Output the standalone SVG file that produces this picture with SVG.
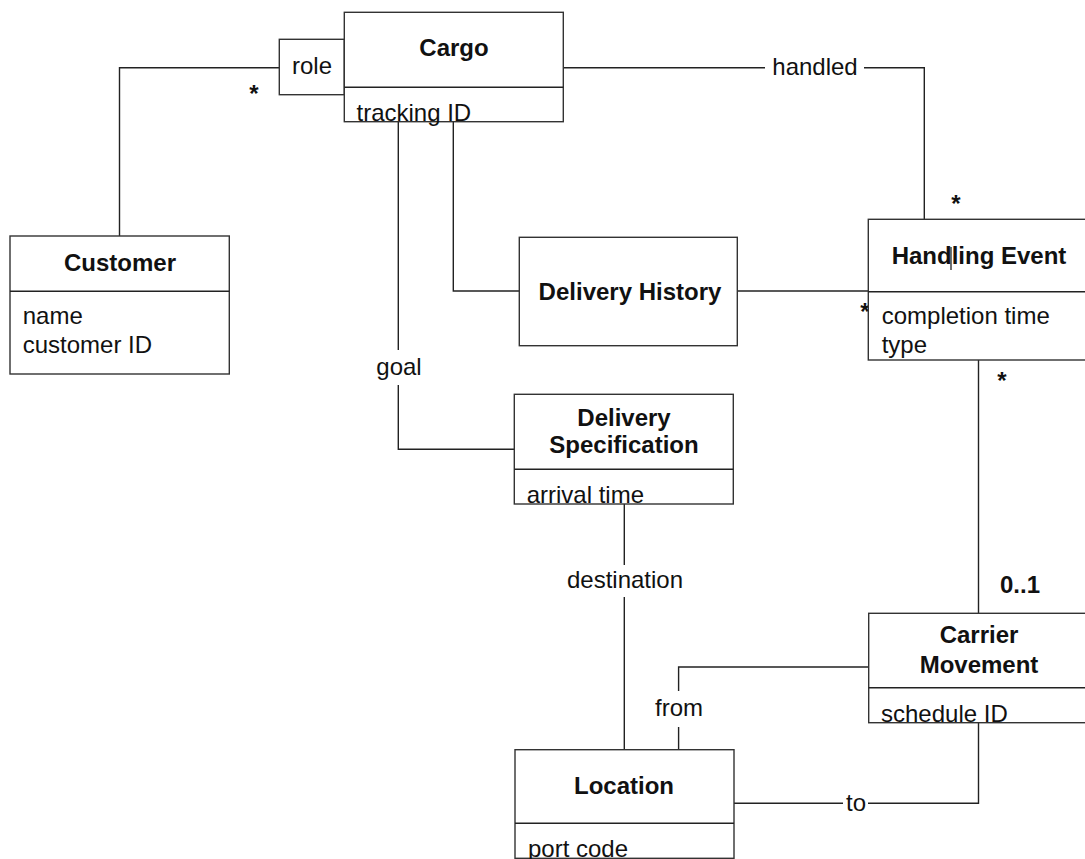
<svg xmlns="http://www.w3.org/2000/svg" width="1085" height="859" viewBox="0 0 1085 859">
<style>
text{font-family:"Liberation Sans",Arial,sans-serif;font-size:24px;fill:#111}
.t{font-weight:bold;text-anchor:middle}
.c{text-anchor:middle}
.b{font-weight:bold}
.box{fill:#fff;stroke:#333;stroke-width:1.4}
.ln{fill:none;stroke:#222;stroke-width:1.4}
</style>
<rect width="1085" height="859" fill="#fff"/>
<g id="connectors">
<path class="ln" d="M279.3,67.7 H119.5 V236"/>
<path class="ln" d="M563.3,67.7 H765 M864,67.7 H924.3 V219.3"/>
<path class="ln" d="M453.3,122 V291 H519.3"/>
<path class="ln" d="M737.3,291 H868.5"/>
<path class="ln" d="M398.3,122 V350 M398.3,385 V449.3 H514.3"/>
<path class="ln" d="M624.3,504 V565 M624.3,597 V749.7"/>
<path class="ln" d="M978.5,360 V613.3"/>
<path class="ln" d="M868.7,667 H678.6 V691 M678.6,727 V749.7"/>
<path class="ln" d="M734,803.3 H843 M868,803.3 H978.5 V722.7"/>
<text class="c" x="815" y="75">handled</text>
<text class="c" x="399" y="375">goal</text>
<text class="c" x="625" y="588">destination</text>
<text class="c" x="679" y="716">from</text>
<text class="c" x="856" y="811">to</text>
<text class="c b" x="254" y="102">*</text>
<text class="c b" x="956" y="212">*</text>
<text class="c b" x="865" y="320">*</text>
<text class="c b" x="1002" y="389">*</text>
<text class="c b" x="1020" y="593">0..1</text>
</g>
<g id="role">
<rect class="box" x="279.3" y="39.3" width="65" height="55.4"/>
<text x="292" y="73.5">role</text>
</g>
<g id="cargo">
<rect class="box" x="344.3" y="12.3" width="219" height="109.4"/>
<line class="ln" x1="344.3" y1="87.3" x2="563.3" y2="87.3"/>
<text class="t" x="454" y="56">Cargo</text>
<text x="356.5" y="120.7">tracking ID</text>
</g>
<g id="customer">
<rect class="box" x="10" y="236" width="219.3" height="138"/>
<line class="ln" x1="10" y1="291.3" x2="229.3" y2="291.3"/>
<text class="t" x="120" y="271">Customer</text>
<text x="22.7" y="324">name</text>
<text x="22.7" y="353.3">customer ID</text>
</g>
<g id="delivery-history">
<rect class="box" x="519.3" y="237.3" width="218" height="108.4"/>
<text class="t" x="630" y="300">Delivery History</text>
</g>
<g id="handling-event">
<rect class="box" x="868.3" y="219.3" width="230" height="140.7"/>
<line class="ln" x1="868.3" y1="291.7" x2="1090" y2="291.7"/>
<text class="t" x="979" y="263.5">Handling Event</text>
<line x1="951" y1="247" x2="951" y2="270" stroke="#111" stroke-width="1.2"/>
<text x="881.7" y="324">completion time</text>
<text x="881.7" y="353">type</text>
</g>
<g id="delivery-specification">
<rect class="box" x="514.3" y="394.3" width="219" height="109.7"/>
<line class="ln" x1="514.3" y1="469.3" x2="733.3" y2="469.3"/>
<text class="t" x="624" y="425.7">Delivery</text>
<text class="t" x="624" y="452.7">Specification</text>
<text x="526.7" y="503.3">arrival time</text>
</g>
<g id="carrier-movement">
<rect class="box" x="868.7" y="613.3" width="230" height="109.4"/>
<line class="ln" x1="868.7" y1="687.7" x2="1090" y2="687.7"/>
<text class="t" x="979" y="643.3">Carrier</text>
<text class="t" x="979" y="672.7">Movement</text>
<text x="881" y="721.7">schedule ID</text>
</g>
<g id="location">
<rect class="box" x="515" y="749.7" width="219" height="108.6"/>
<line class="ln" x1="515" y1="823.3" x2="734" y2="823.3"/>
<text class="t" x="624" y="794.3">Location</text>
<text x="528" y="856.7">port code</text>
</g>
</svg>
